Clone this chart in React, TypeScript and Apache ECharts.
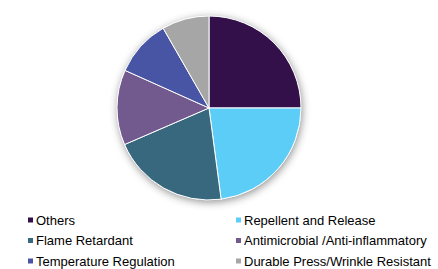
import React, { useEffect, useRef } from "react";
import * as echarts from "echarts";

const categories = [
  "Others",
  "Repellent and Release",
  "Flame Retardant",
  "Antimicrobial /Anti-inflammatory",
  "Temperature Regulation",
  "Durable Press/Wrinkle Resistant",
];
const shares = [25.0, 22.9, 20.6, 13.2, 10.0, 8.3];
const colors = ["#33104A", "#5BCDF7", "#37687D", "#72598E", "#4854A4", "#A6A6A6"];
const leftLegend = [categories[0], categories[2], categories[4]];
const rightLegend = [categories[1], categories[3], categories[5]];

export default function App() {
  const ref = useRef<HTMLDivElement>(null);
  useEffect(() => {
    if (!ref.current) return;
    const chart = echarts.init(ref.current, null, { renderer: "svg" });
    const legendBase = {
      orient: "vertical" as const,
      top: 212.5,
      padding: 0,
      icon: "rect",
      itemWidth: 7,
      itemHeight: 7,
      itemGap: 5.5,
      selectedMode: false,
      textStyle: {
        fontFamily: "Liberation Sans, Arial, sans-serif",
        fontSize: 13,
        color: "#000",
        lineHeight: 15,
        padding: [0, 0, 0, -3],
      },
    };
    chart.setOption({
      animation: false,
      color: colors,
      legend: [
        { ...legendBase, left: 26, data: leftLegend },
        { ...legendBase, left: 234, data: rightLegend },
      ],
      series: [
        {
          type: "pie",
          silent: true,
          center: [209, 108],
          radius: 92,
          label: { show: false },
          labelLine: { show: false },
          itemStyle: {
            color: "#ffffff",
            shadowBlur: 8,
            shadowColor: "rgba(0,0,0,0.45)",
            shadowOffsetX: 1,
            shadowOffsetY: 2,
          },
          data: [{ value: 1, name: "__shadow" }],
          z: 1,
        },
        {
          type: "pie",
          center: [209, 108],
          radius: 92,
          startAngle: 90,
          clockwise: true,
          label: { show: false },
          labelLine: { show: false },
          itemStyle: { borderColor: "#ffffff", borderWidth: 1 },
          data: categories.map((c, i) => ({ name: c, value: shares[i] })),
          z: 2,
        },
      ],
    });
    return () => chart.dispose();
  }, []);
  return (
    <div
      ref={ref}
      style={{ position: "absolute", left: 0, top: 0, width: 438, height: 269 }}
    />
  );
}
